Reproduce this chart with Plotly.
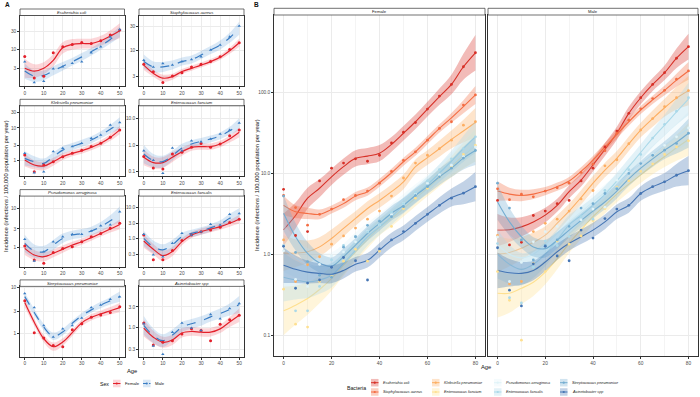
import plotly.graph_objects as go

W, H = 700, 397

# ---------------- data ----------------
ages = [0, 5, 10, 15, 20, 25, 30, 35, 40, 45, 50, 55, 60, 65, 70, 75, 80]
N_A = 11  # panel A shows ages 0-50

species = ["Escherichia coli", "Staphylococcus aureus", "Klebsiella pneumoniae",
           "Enterococcus faecium", "Pseudomonas aeruginosa", "Enterococcus faecalis",
           "Streptococcus pneumoniae", "Acinetobacter spp"]
species_colors = ["#D73027", "#F46D43", "#FDAE61", "#FEE090",
                  "#E0F3F8", "#ABD9E9", "#74ADD1", "#4575B4"]
sexes = ["Female", "Male"]
sex_colors = ["#E3202B", "#3A7DC4"]
sex_fills = ["rgba(240,70,80,0.22)", "rgba(80,150,215,0.22)"]

# observed incidence per 100,000 per year (ages 0..80)
ecoli_f = [6.3, 1.7, 1.9, 8.0, 11.5, 13.3, 15.0, 14.0, 16.6, 23.5, 32, 42, 61.6, 89, 124, 205, 305]
ecoli_m = [4.6, 1.3, 1.4, 3.0, 3.4, 4.2, 4.6, 8.0, 11.5, 21, 33, 54.6, 85, 124, 173, 261, 363]
saureus_f = [5.3, 3.76, 2.28, 3.1, 3.6, 4.7, 5.3, 6.0, 7.5, 10.5, 14.3, 18.3, 25.5, 35.6, 43, 69, 92]
saureus_m = [6.4, 4.7, 5.5, 5.1, 6.0, 6.6, 7.5, 10.2, 12.9, 18.9, 31, 45, 62, 83, 105, 144, 182]
kpneu_f = [1.5, 0.46, 0.74, 0.93, 1.33, 1.68, 2.1, 2.7, 3.4, 5.2, 8.7, 13.3, 16.6, 20, 25.5, 39, 43]
kpneu_m = [1.7, 0.43, 0.46, 1.9, 2.4, 2.7, 3.4, 4.8, 6.1, 12.3, 14.6, 23, 34, 47, 66, 85, 104]
efaecium_f = [0.37, 0.137, 0.126, 0.46, 0.53, 0.82, 1.15, 0.82, 1.09, 2.2, 3.65, 4.9, 6.5, 9, 12, 17, 22]
efaecium_m = [0.61, 0.27, 0.087, 0.77, 0.61, 1.45, 1.33, 1.68, 2.6, 3.65, 6.7, 8, 10.5, 13, 17, 21, 25]
paer_f = [1.1, 0.49, 0.40, 0.75, 0.95, 1.06, 1.42, 1.9, 2.3, 3.1, 4.2, 5.5, 7.5, 9.5, 12.5, 16, 21]
paer_m = [1.63, 0.46, 0.79, 1.42, 1.9, 2.2, 2.2, 2.65, 3.6, 3.8, 8.2, 10, 13, 17, 22, 28, 36]
efaecalis_f = [1.28, 0.20, 0.20, 0.40, 0.85, 1.28, 1.65, 1.88, 2.3, 3.3, 4.2, 5.8, 8, 11, 15, 20, 28]
efaecalis_m = [1.35, 0.29, 0.25, 0.69, 1.45, 1.28, 1.65, 2.9, 2.7, 6.1, 6.5, 11, 17, 27, 40, 58, 85]
spneu_f = [5.2, 1.05, 0.81, 0.55, 0.52, 1.22, 1.64, 2.27, 2.55, 2.9, 3.85, 5.3, 6.8, 9, 11.5, 15.3, 19]
spneu_m = [7.5, 3.7, 1.5, 0.85, 1.28, 1.5, 2.2, 3.7, 4.2, 5.6, 6.4, 9.9, 13.1, 16.6, 19.2, 23.2, 31]
acin_f = [1.25, 0.38, 0.44, 0.48, 0.69, 0.91, 0.83, 0.48, 1.16, 1.5, 1.9, 2.4, 3.1, 4.0, 4.9, 5.65, 6.8]
acin_m = [1.2, 0.36, 0.23, 0.76, 1.25, 0.95, 0.83, 1.98, 1.58, 2.75, 3.6, 4.0, 5.6, 6.8, 7.8, 9.4, 10.7]

# panel A smoothed fits (ages 0-50)
ecoli_f_fitA = [3.1, 2.6, 3.1, 5.0, 10.8, 13.3, 14, 14, 16.6, 22, 30.5]
ecoli_m_fitA = [2.6, 1.9, 2.0, 2.65, 3.5, 4.6, 6.2, 8.5, 12, 18, 29]
saureus_f_fitA = [5.1, 3.5, 2.8, 3.0, 3.8, 4.4, 5.1, 6.0, 7.3, 9.9, 14.3]
saureus_m_fitA = [6.0, 4.7, 4.7, 5.1, 6.0, 6.6, 8.1, 10.2, 12.9, 18, 28]
kpneu_f_fitA = [1.05, 0.74, 0.69, 0.93, 1.33, 1.68, 2.0, 2.56, 3.4, 5.1, 8.7]
kpneu_m_fitA = [1.18, 0.93, 0.83, 1.33, 2.1, 2.7, 3.4, 4.3, 6.1, 9.1, 13.9]
efaecium_f_fitA = [0.35, 0.22, 0.22, 0.35, 0.56, 0.82, 0.87, 0.87, 1.09, 1.68, 2.98]
efaecium_m_fitA = [0.46, 0.26, 0.24, 0.40, 0.77, 1.09, 1.37, 1.68, 2.2, 3.4, 6.1]
paer_f_fitA = [0.96, 0.65, 0.59, 0.72, 0.92, 1.17, 1.42, 1.8, 2.3, 2.98, 3.9]
paer_m_fitA = [1.29, 0.82, 0.79, 1.17, 1.73, 2.1, 2.3, 2.65, 3.4, 4.8, 7.0]
efaecalis_f_fitA = [0.82, 0.44, 0.27, 0.37, 0.78, 1.28, 1.65, 2.0, 2.4, 3.1, 4.2]
efaecalis_m_fitA = [1.0, 0.53, 0.42, 0.61, 1.13, 1.45, 1.73, 2.2, 2.86, 4.5, 6.1]
spneu_f_fitA = [4.76, 1.78, 0.78, 0.52, 0.66, 1.05, 1.72, 2.27, 2.7, 3.16, 3.7]
spneu_m_fitA = [6.4, 2.9, 1.39, 0.88, 1.09, 1.69, 2.47, 3.3, 4.2, 5.2, 6.4]
acin_f_fitA = [0.95, 0.58, 0.44, 0.50, 0.73, 0.79, 0.76, 0.76, 0.91, 1.32, 1.9]
acin_m_fitA = [1.1, 0.63, 0.48, 0.65, 1.0, 1.2, 1.39, 1.74, 2.09, 2.6, 3.4]

# panel A band half-widths (log10 units)
ecoli_f_seA = [0.25, 0.18, 0.16, 0.16, 0.15, 0.14, 0.13, 0.13, 0.13, 0.15, 0.2]
ecoli_m_seA = [0.2, 0.15, 0.13, 0.12, 0.11, 0.1, 0.1, 0.1, 0.1, 0.11, 0.14]
saureus_f_seA = [0.1, 0.07, 0.07, 0.06, 0.05, 0.05, 0.05, 0.05, 0.05, 0.06, 0.08]
saureus_m_seA = [0.14, 0.11, 0.1, 0.09, 0.08, 0.08, 0.08, 0.08, 0.09, 0.1, 0.13]
kpneu_f_seA = [0.2, 0.14, 0.13, 0.12, 0.1, 0.09, 0.09, 0.09, 0.09, 0.1, 0.13]
kpneu_m_seA = [0.22, 0.17, 0.15, 0.13, 0.12, 0.11, 0.11, 0.11, 0.11, 0.13, 0.18]
efaecium_f_seA = [0.3, 0.22, 0.2, 0.18, 0.15, 0.13, 0.12, 0.12, 0.12, 0.13, 0.18]
efaecium_m_seA = [0.35, 0.25, 0.22, 0.18, 0.16, 0.14, 0.13, 0.13, 0.13, 0.15, 0.22]
paer_f_seA = [0.17, 0.13, 0.12, 0.1, 0.09, 0.08, 0.08, 0.08, 0.08, 0.09, 0.12]
paer_m_seA = [0.22, 0.17, 0.15, 0.13, 0.12, 0.11, 0.11, 0.11, 0.12, 0.14, 0.2]
efaecalis_f_seA = [0.22, 0.17, 0.17, 0.15, 0.12, 0.1, 0.1, 0.1, 0.1, 0.11, 0.14]
efaecalis_m_seA = [0.25, 0.2, 0.18, 0.16, 0.13, 0.12, 0.12, 0.12, 0.13, 0.15, 0.2]
spneu_f_seA = [0.1, 0.08, 0.08, 0.09, 0.08, 0.07, 0.07, 0.07, 0.07, 0.08, 0.1]
spneu_m_seA = [0.09, 0.07, 0.07, 0.08, 0.07, 0.06, 0.06, 0.06, 0.07, 0.08, 0.11]
acin_f_seA = [0.2, 0.15, 0.13, 0.12, 0.11, 0.1, 0.1, 0.1, 0.1, 0.12, 0.16]
acin_m_seA = [0.22, 0.17, 0.15, 0.13, 0.12, 0.11, 0.11, 0.11, 0.12, 0.14, 0.2]

# panel B smoothed fits (ages 0-80)
ecoli_f_fitB = [2.0, 3.0, 4.9, 6.5, 9.0, 12, 15.2, 16.2, 17.6, 22.6, 31, 43, 61.6, 87.8, 124, 205, 305]
ecoli_m_fitB = [1.98, 2.0, 2.17, 2.5, 3.03, 4.0, 5.9, 8.2, 12.6, 19.6, 31, 54.6, 85, 124, 173, 261, 363]
saureus_f_fitB = [4.0, 3.33, 3.18, 3.1, 3.56, 4.2, 5.2, 5.9, 7.6, 10.1, 13.8, 18.3, 25.5, 35.6, 48, 66, 92]
saureus_m_fitB = [6.0, 5.5, 5.3, 5.5, 6.0, 6.8, 8.0, 10.5, 14.5, 21, 30, 43, 60, 80, 105, 140, 182]
kpneu_f_fitB = [1.03, 1.03, 1.07, 1.23, 1.56, 2.08, 2.76, 3.66, 4.6, 5.9, 7.8, 12, 15.5, 20, 26, 33, 42]
kpneu_m_fitB = [1.0, 1.05, 1.18, 1.4, 1.72, 2.4, 3.4, 5.0, 7.5, 10.9, 15.2, 23, 34, 47, 64, 84, 104]
efaecium_f_fitB = [0.2, 0.235, 0.284, 0.367, 0.5, 0.73, 1.07, 1.52, 2.14, 2.76, 3.66, 4.9, 6.5, 8.8, 12, 16.5, 22]
efaecium_m_fitB = [0.33, 0.33, 0.38, 0.45, 0.6, 0.88, 1.36, 2.0, 2.9, 4.0, 5.5, 7.3, 9.5, 12.5, 16, 20.5, 26]
paer_f_fitB = [1.2, 0.9, 0.75, 0.7, 0.75, 1.0, 1.4, 1.9, 2.5, 3.3, 4.4, 5.8, 7.5, 10, 13, 17, 22]
paer_m_fitB = [1.3, 1.0, 0.9, 1.0, 1.3, 1.8, 2.5, 3.3, 4.4, 5.8, 7.6, 10, 13, 17, 22, 28, 36]
efaecalis_f_fitB = [0.52, 0.48, 0.455, 0.48, 0.55, 0.77, 1.12, 1.64, 2.17, 2.9, 4.0, 5.3, 7.2, 10, 14, 20, 28]
efaecalis_m_fitB = [1.0, 0.75, 0.65, 0.75, 1.0, 1.5, 2.3, 3.0, 4.0, 5.5, 8, 12, 18, 27, 39, 57, 82]
spneu_f_fitB = [3.2, 1.64, 1.02, 0.78, 0.71, 0.93, 1.29, 1.8, 2.4, 3.2, 4.0, 5.3, 6.8, 9.0, 11.5, 15.3, 19]
spneu_m_fitB = [4.4, 2.5, 1.64, 1.23, 1.17, 1.49, 1.98, 2.6, 3.4, 4.4, 6.0, 8.5, 11.5, 15, 19.2, 24, 31]
acin_f_fitB = [0.73, 0.65, 0.6, 0.58, 0.566, 0.63, 0.75, 0.84, 1.12, 1.49, 1.83, 2.4, 3.1, 4.0, 5.0, 5.7, 6.8]
acin_m_fitB = [0.63, 0.59, 0.58, 0.63, 0.8, 1.07, 1.36, 1.64, 1.98, 2.5, 3.33, 4.0, 5.6, 6.8, 7.8, 9.4, 10.7]

# panel B band half-widths (log10 units)
ecoli_f_seB = [0.2, 0.16, 0.13, 0.11, 0.1, 0.1, 0.1, 0.1, 0.1, 0.09, 0.09, 0.09, 0.09, 0.1, 0.12, 0.16, 0.22]
ecoli_m_seB = [0.2, 0.15, 0.12, 0.1, 0.09, 0.08, 0.08, 0.08, 0.08, 0.08, 0.08, 0.08, 0.08, 0.08, 0.09, 0.12, 0.16]
saureus_seB = [0.12, 0.08, 0.07, 0.06, 0.05, 0.05, 0.05, 0.05, 0.05, 0.05, 0.05, 0.05, 0.05, 0.05, 0.06, 0.08, 0.11]
wide_seB = [0.3, 0.24, 0.2, 0.17, 0.15, 0.13, 0.12, 0.11, 0.1, 0.1, 0.1, 0.1, 0.1, 0.11, 0.13, 0.16, 0.2]
mid_seB = [0.22, 0.17, 0.14, 0.12, 0.11, 0.1, 0.09, 0.09, 0.09, 0.09, 0.09, 0.09, 0.09, 0.1, 0.11, 0.14, 0.18]

# axis ticks
a_xticks = [0, 10, 20, 30, 40, 50]
b_xticks = [0, 20, 40, 60, 80]
b_yticks = [0.1, 1, 10, 100]
b_yticktext = ["0.1", "1.0", "10.0", "100.0"]
a_yticks = {
    "Escherichia coli": ([1, 3, 10, 30], ["1", "3", "10", "30"]),
    "Staphylococcus aureus": ([3, 10, 30], ["3", "10", "30"]),
    "Klebsiella pneumoniae": ([1, 3, 10, 30], ["1", "3", "10", "30"]),
    "Enterococcus faecium": ([0.1, 1, 10], ["0.1", "1.0", "10.0"]),
    "Pseudomonas aeruginosa": ([1, 3, 10], ["1", "3", "10"]),
    "Enterococcus faecalis": ([0.3, 1, 3, 10], ["0.3", "1.0", "3.0", "10.0"]),
    "Streptococcus pneumoniae": ([1, 3, 10], ["1", "3", "10"]),
    "Acinetobacter spp": ([0.3, 1, 3], ["0.3", "1.0", "3.0"]),
}
a_yrange = {
    "Escherichia coli": [0.02, 1.89],
    "Staphylococcus aureus": [0.29, 1.70],
    "Klebsiella pneumoniae": [-0.476, 1.675],
    "Enterococcus faecium": [-1.172, 1.468],
    "Pseudomonas aeruginosa": [-0.48, 1.31],
    "Enterococcus faecalis": [-0.925, 1.38],
    "Streptococcus pneumoniae": [-0.506, 1.03],
    "Acinetobacter spp": [-0.70, 0.957],
}

obs = {
    species[0]: (ecoli_f, ecoli_m), species[1]: (saureus_f, saureus_m),
    species[2]: (kpneu_f, kpneu_m), species[3]: (efaecium_f, efaecium_m),
    species[4]: (paer_f, paer_m), species[5]: (efaecalis_f, efaecalis_m),
    species[6]: (spneu_f, spneu_m), species[7]: (acin_f, acin_m),
}
fitA = {
    species[0]: (ecoli_f_fitA, ecoli_m_fitA), species[1]: (saureus_f_fitA, saureus_m_fitA),
    species[2]: (kpneu_f_fitA, kpneu_m_fitA), species[3]: (efaecium_f_fitA, efaecium_m_fitA),
    species[4]: (paer_f_fitA, paer_m_fitA), species[5]: (efaecalis_f_fitA, efaecalis_m_fitA),
    species[6]: (spneu_f_fitA, spneu_m_fitA), species[7]: (acin_f_fitA, acin_m_fitA),
}
seA = {
    species[0]: (ecoli_f_seA, ecoli_m_seA), species[1]: (saureus_f_seA, saureus_m_seA),
    species[2]: (kpneu_f_seA, kpneu_m_seA), species[3]: (efaecium_f_seA, efaecium_m_seA),
    species[4]: (paer_f_seA, paer_m_seA), species[5]: (efaecalis_f_seA, efaecalis_m_seA),
    species[6]: (spneu_f_seA, spneu_m_seA), species[7]: (acin_f_seA, acin_m_seA),
}
fitB = {
    species[0]: (ecoli_f_fitB, ecoli_m_fitB), species[1]: (saureus_f_fitB, saureus_m_fitB),
    species[2]: (kpneu_f_fitB, kpneu_m_fitB), species[3]: (efaecium_f_fitB, efaecium_m_fitB),
    species[4]: (paer_f_fitB, paer_m_fitB), species[5]: (efaecalis_f_fitB, efaecalis_m_fitB),
    species[6]: (spneu_f_fitB, spneu_m_fitB), species[7]: (acin_f_fitB, acin_m_fitB),
}
seB = {
    species[0]: (ecoli_f_seB, ecoli_m_seB), species[1]: (saureus_seB, saureus_seB),
    species[2]: (mid_seB, mid_seB), species[3]: (wide_seB, wide_seB),
    species[4]: (wide_seB, wide_seB), species[5]: (wide_seB, wide_seB),
    species[6]: (mid_seB, mid_seB), species[7]: (mid_seB, mid_seB),
}

# ---------------- helpers ----------------
FONT = "Liberation Sans, Arial, sans-serif"
TICK_COL = "#4D4D4D"
GRID = "#EBEBEB"
BORDER = "#333333"
TICK_SIZE = 4.8


def fx(p):
    return p / W


def fy(p):
    return 1 - p / H


def hexa(c, a):
    c = c.lstrip("#")
    r, g, b = int(c[0:2], 16), int(c[2:4], 16), int(c[4:6], 16)
    return f"rgba({r},{g},{b},{a})"


def bounds(fit, se):
    lo = [f / 10 ** s for f, s in zip(fit, se)]
    hi = [f * 10 ** s for f, s in zip(fit, se)]
    return lo, hi


fig = go.Figure()
layout = dict(
    width=W, height=H, margin=dict(l=0, r=0, t=0, b=0),
    paper_bgcolor="white", plot_bgcolor="white", showlegend=False,
    font=dict(family=FONT, size=5, color="#222222"),
)
shapes = []
annotations = []


def axis_pair(i, xdom, ydom, xrange, xticks, yrange, yticks, ytext, show_y=True, minor_dx=5):
    sx = "" if i == 1 else str(i)
    layout["xaxis" + sx] = dict(
        domain=xdom, range=xrange, tickvals=xticks, ticktext=[str(t) for t in xticks],
        showgrid=True, gridcolor=GRID, gridwidth=0.6, zeroline=False,
        showline=True, mirror=True, linecolor=BORDER, linewidth=0.6,
        ticks="outside", ticklen=2, tickwidth=0.5, tickcolor=BORDER,
        tickfont=dict(size=TICK_SIZE, color=TICK_COL, family=FONT),
        minor=dict(dtick=minor_dx, tick0=0, showgrid=True, gridcolor="#F4F4F4", gridwidth=0.4),
        anchor="y" + sx, fixedrange=True,
    )
    layout["yaxis" + sx] = dict(
        domain=ydom, type="log", range=yrange, tickvals=yticks, ticktext=ytext,
        showticklabels=show_y, ticks="outside" if show_y else "",
        ticklen=2, tickwidth=0.5, tickcolor=BORDER,
        showgrid=True, gridcolor=GRID, gridwidth=0.6, zeroline=False,
        showline=True, mirror=True, linecolor=BORDER, linewidth=0.6,
        tickfont=dict(size=TICK_SIZE, color=TICK_COL, family=FONT),
        anchor="x" + sx, fixedrange=True,
    )
    return "x" + sx, "y" + sx


def strip(x0, x1, y0, y1, text, italic=True):
    shapes.append(dict(type="rect", xref="paper", yref="paper", x0=fx(x0), x1=fx(x1),
                       y0=fy(y1), y1=fy(y0), fillcolor="white",
                       line=dict(color=BORDER, width=0.7), layer="above"))
    annotations.append(dict(xref="paper", yref="paper", x=fx((x0 + x1) / 2), y=fy((y0 + y1) / 2),
                            text=f"<i>{text}</i>" if italic else text, showarrow=False,
                            font=dict(size=4.2, color="#1A1A1A", family=FONT),
                            xanchor="center", yanchor="middle"))


# ---------------- panel A ----------------
a_cols = [(20, 124.5), (139, 244)]
ages_A = ages[:N_A]
for k, sp in enumerate(species):
    row, col = k // 2, k % 2
    top = 15.5 + 90.3 * row
    bot = 86 + 90.3 * row
    xd = [fx(a_cols[col][0]), fx(a_cols[col][1])]
    yd = [fy(bot), fy(top)]
    tv, tt = a_yticks[sp]
    xa, ya = axis_pair(k + 1, xd, yd, [-2.5, 52.5], a_xticks, a_yrange[sp], tv, tt, True, 5)
    strip(a_cols[col][0], a_cols[col][1], top - 6.5, top, sp)
    for s in range(2):
        lo, hi = bounds(fitA[sp][s], seA[sp][s])
        fig.add_trace(go.Scatter(x=ages_A, y=lo, mode="lines", line=dict(width=0, shape="spline"),
                                 xaxis=xa, yaxis=ya, hoverinfo="skip"))
        fig.add_trace(go.Scatter(x=ages_A, y=hi, mode="lines", line=dict(width=0, shape="spline"),
                                 fill="tonexty", fillcolor=sex_fills[s],
                                 xaxis=xa, yaxis=ya, hoverinfo="skip"))
    for s in range(2):
        fig.add_trace(go.Scatter(x=ages_A, y=fitA[sp][s], mode="lines",
                                 line=dict(color=sex_colors[s], width=1.2, shape="spline",
                                           dash="solid" if s == 0 else "dash"),
                                 xaxis=xa, yaxis=ya))
    for s in range(2):
        fig.add_trace(go.Scatter(x=ages_A, y=obs[sp][s][:N_A], mode="markers",
                                 marker=dict(color=sex_colors[s], size=3,
                                             symbol="circle" if s == 0 else "triangle-up"),
                                 xaxis=xa, yaxis=ya))

# ---------------- panel B ----------------
b_cols = [(274, 485), (488, 698)]
for s in range(2):
    xd = [fx(b_cols[s][0]), fx(b_cols[s][1])]
    yd = [fy(356), fy(15)]
    xa, ya = axis_pair(9 + s, xd, yd, [-4, 84], b_xticks, [-1.256, 2.95], b_yticks, b_yticktext,
                       s == 0, 10)
    strip(b_cols[s][0], b_cols[s][1], 8.3, 15, sexes[s], italic=False)
    for k, sp in enumerate(species):
        lo, hi = bounds(fitB[sp][s], seB[sp][s])
        fig.add_trace(go.Scatter(x=ages, y=lo, mode="lines", line=dict(width=0, shape="spline"),
                                 xaxis=xa, yaxis=ya, hoverinfo="skip"))
        fig.add_trace(go.Scatter(x=ages, y=hi, mode="lines", line=dict(width=0, shape="spline"),
                                 fill="tonexty", fillcolor=hexa(species_colors[k], 0.33),
                                 xaxis=xa, yaxis=ya, hoverinfo="skip"))
        fig.add_trace(go.Scatter(x=ages, y=fitB[sp][s], mode="lines",
                                 line=dict(color=species_colors[k], width=1.1, shape="spline"),
                                 xaxis=xa, yaxis=ya))
    for k, sp in enumerate(species):
        fig.add_trace(go.Scatter(x=ages, y=obs[sp][s], mode="markers",
                                 marker=dict(color=species_colors[k], size=2.8),
                                 xaxis=xa, yaxis=ya))

# ---------------- titles ----------------
def text(x, y, t, size, angle=0, xanchor="center", bold=False):
    annotations.append(dict(xref="paper", yref="paper", x=fx(x), y=fy(y),
                            text=f"<b>{t}</b>" if bold else t, showarrow=False, textangle=angle,
                            font=dict(size=size, color="#111111", family=FONT),
                            xanchor=xanchor, yanchor="middle"))


ytitle = "Incidence (infections / 100,000 population per year)"
text(3, 5, "A", 6.5, xanchor="left", bold=True)
text(252, 5, "B", 6.5, xanchor="left", bold=True)
text(6, 186, ytitle, 5.8, angle=-90)
text(257, 185, ytitle, 5.8, angle=-90)
text(132, 371, "Age", 5.8)
text(486, 367, "Age", 5.8)

# ---------------- legends ----------------
def key(x0, yc, color, fill, dash="solid"):
    w, h = 7.5, 7.5
    shapes.append(dict(type="rect", xref="paper", yref="paper", x0=fx(x0), x1=fx(x0 + w),
                       y0=fy(yc + h / 2), y1=fy(yc - h / 2), fillcolor=fill, line=dict(width=0)))
    shapes.append(dict(type="line", xref="paper", yref="paper", x0=fx(x0), x1=fx(x0 + w),
                       y0=fy(yc), y1=fy(yc), line=dict(color=color, width=1.0, dash=dash)))
    shapes.append(dict(type="circle", xref="paper", yref="paper", x0=fx(x0 + w / 2 - 1.1),
                       x1=fx(x0 + w / 2 + 1.1), y0=fy(yc + 1.1), y1=fy(yc - 1.1),
                       fillcolor=color, line=dict(width=0)))


text(98, 383.5, "Sex", 5.2, xanchor="left")
sex_key_x = [113, 143]
for s in range(2):
    key(sex_key_x[s], 383.5, sex_colors[s], sex_fills[s], "solid" if s == 0 else "dot")
    text(sex_key_x[s] + 10, 383.5, sexes[s], 4.2, xanchor="left")

text(345, 387.5, "Bacteria", 5.2, xanchor="left")
leg_cols = [371, 432, 494, 560]
leg_rows = [382.7, 392]
for k, sp in enumerate(species):
    c, r = k // 2, k % 2
    key(leg_cols[c], leg_rows[r], species_colors[k], hexa(species_colors[k], 0.33))
    annotations.append(dict(xref="paper", yref="paper", x=fx(leg_cols[c] + 10), y=fy(leg_rows[r]),
                            text=f"<i>{sp}</i>", showarrow=False,
                            font=dict(size=3.8, color="#222222", family=FONT),
                            xanchor="left", yanchor="middle"))

layout["shapes"] = shapes
layout["annotations"] = annotations
fig.update_layout(**layout)

fig.write_html("out.html", config={"displayModeBar": False},
               post_script="document.body.style.margin='0';document.body.style.overflow='hidden';")
